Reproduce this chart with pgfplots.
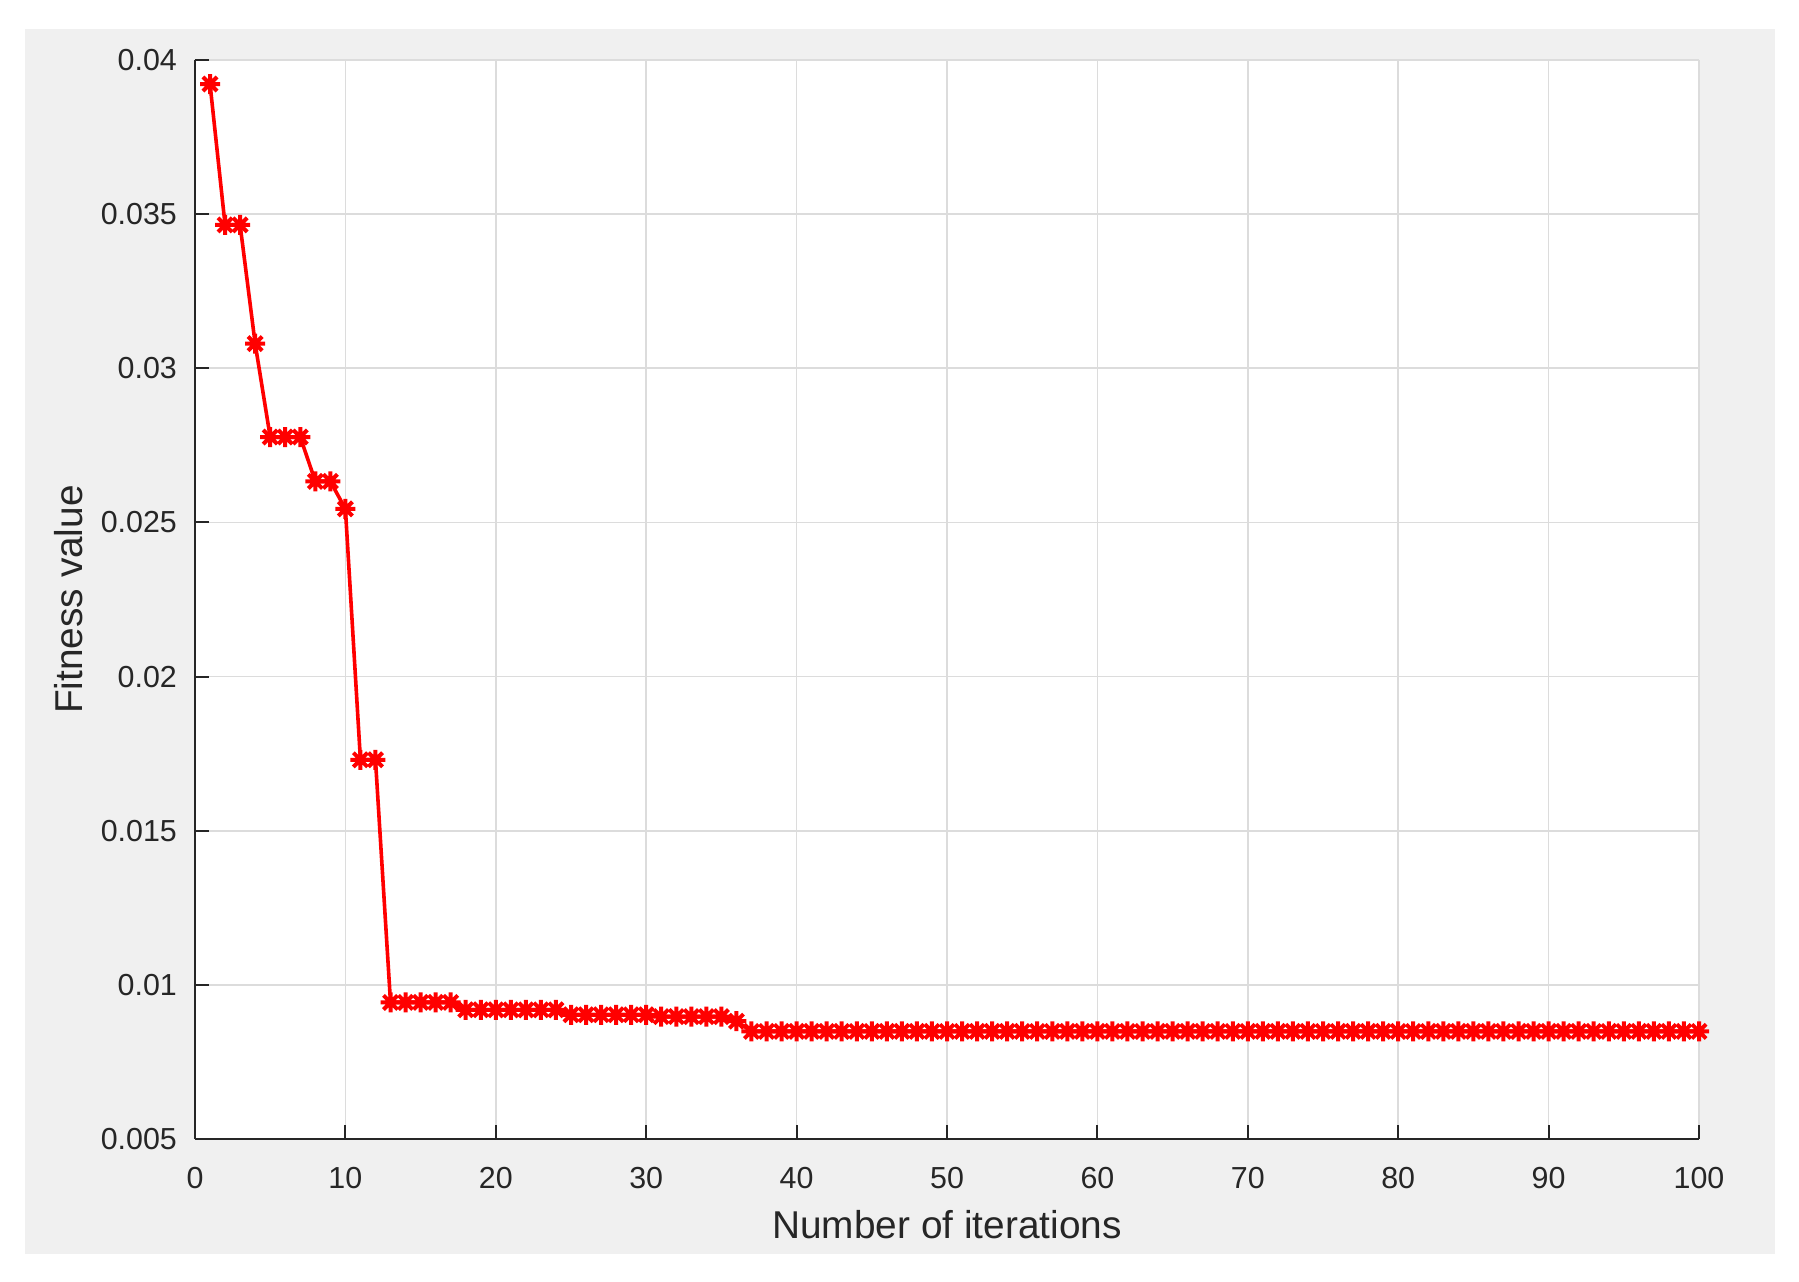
\documentclass[border=0pt]{standalone}
\usepackage{fontspec}
\setmainfont{Liberation Sans}
\usepackage{pgfplots}
\pgfplotsset{compat=1.18}
\definecolor{figbg}{gray}{0.94}
\definecolor{axcol}{HTML}{262626}
\definecolor{gridcol}{HTML}{DCDCDC}

% MATLAB style '*' marker: plus and cross together
\pgfdeclareplotmark{mstar}{%
  \pgfpathmoveto{\pgfqpoint{-\pgfplotmarksize}{0pt}}\pgfpathlineto{\pgfqpoint{\pgfplotmarksize}{0pt}}%
  \pgfpathmoveto{\pgfqpoint{0pt}{-\pgfplotmarksize}}\pgfpathlineto{\pgfqpoint{0pt}{\pgfplotmarksize}}%
  \pgfpathmoveto{\pgfpointpolar{45}{\pgfplotmarksize}}\pgfpathlineto{\pgfpointpolar{225}{\pgfplotmarksize}}%
  \pgfpathmoveto{\pgfpointpolar{135}{\pgfplotmarksize}}\pgfpathlineto{\pgfpointpolar{315}{\pgfplotmarksize}}%
  \pgfusepathqstroke}

\begin{document}
\begin{tikzpicture}
\fill[white] (-48.75pt,-35.75pt) rectangle (401pt,284.75pt);
\fill[figbg] (-42.5pt,-28.75pt) rectangle (395pt,277.5pt);
\begin{axis}[
    scale only axis,
    width=376pt, height=269.75pt,
    at={(0,0)}, anchor=south west,
    xmin=0, xmax=100, ymin=0.005, ymax=0.04,
    xtick={0,10,...,100},
    ytick={0.005,0.01,0.015,0.02,0.025,0.03,0.035,0.04},
    yticklabels={0.005,0.01,0.015,0.02,0.025,0.03,0.035,0.04},
    scaled y ticks=false,
    /pgf/number format/assume math mode=true,
    axis lines*=left,
    axis line style={axcol, line width=0.5pt},
    axis background/.style={fill=white},
    tick align=inside,
    major tick length=3.5pt,
    tick style={axcol, line width=0.5pt},
    grid=major,
    major grid style={gridcol, line width=0.4pt},
    ticklabel style={font=\fontsize{7.6}{9}\selectfont, text=axcol},
    xticklabel style={yshift=-3.6pt},
    yticklabel style={xshift=-1pt},
    xlabel={Number of iterations},
    ylabel={Fitness value},
    label style={font=\fontsize{9.7}{11}\selectfont, text=axcol},
    xlabel style={at={(axis description cs:0.5,-0.0797)}, anchor=center},
    ylabel style={at={(axis description cs:-0.0838,0.5)}, anchor=center},
    clip=false,
]
\addplot[red, line width=0.9pt, mark=mstar, mark size=2.5pt,
         mark options={line width=1pt}] coordinates {
(1,0.03922) (2,0.03465) (3,0.03465) (4,0.03080) (5,0.02777) (6,0.02777)
(7,0.02777) (8,0.02633) (9,0.02633) (10,0.02544) (11,0.01730) (12,0.01730)
(13,0.00943) (14,0.00943) (15,0.00943) (16,0.00943) (17,0.00943)
(18,0.00919) (19,0.00919) (20,0.00919) (21,0.00919) (22,0.00919) (23,0.00919) (24,0.00919)
(25,0.00903) (26,0.00903) (27,0.00903) (28,0.00903) (29,0.00903) (30,0.00903)
(31,0.00897) (32,0.00897) (33,0.00897) (34,0.00897) (35,0.00897) (36,0.00882)
(37,0.00849) (38,0.00849) (39,0.00849) (40,0.00849) (41,0.00849) (42,0.00849)
(43,0.00849) (44,0.00849) (45,0.00849) (46,0.00849) (47,0.00849) (48,0.00849)
(49,0.00849) (50,0.00849) (51,0.00849) (52,0.00849) (53,0.00849) (54,0.00849)
(55,0.00849) (56,0.00849) (57,0.00849) (58,0.00849) (59,0.00849) (60,0.00849)
(61,0.00849) (62,0.00849) (63,0.00849) (64,0.00849) (65,0.00849) (66,0.00849)
(67,0.00849) (68,0.00849) (69,0.00849) (70,0.00849) (71,0.00849) (72,0.00849)
(73,0.00849) (74,0.00849) (75,0.00849) (76,0.00849) (77,0.00849) (78,0.00849)
(79,0.00849) (80,0.00849) (81,0.00849) (82,0.00849) (83,0.00849) (84,0.00849)
(85,0.00849) (86,0.00849) (87,0.00849) (88,0.00849) (89,0.00849) (90,0.00849)
(91,0.00849) (92,0.00849) (93,0.00849) (94,0.00849) (95,0.00849) (96,0.00849)
(97,0.00849) (98,0.00849) (99,0.00849) (100,0.00849)
};
\end{axis}
\end{tikzpicture}
\end{document}
